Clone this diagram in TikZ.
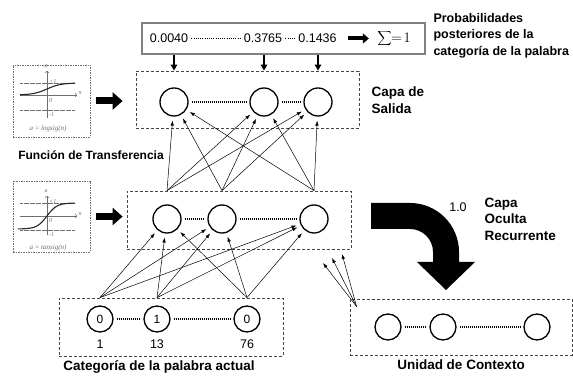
\documentclass[tikz,border=0pt]{standalone}
\usepackage{fontspec}
\setmainfont{Liberation Sans}
\newfontfamily\plotfont{Liberation Serif}
\usepackage{tikz}
\usetikzlibrary{positioning,arrows.meta,calc}
\definecolor{boxgray}{RGB}{70,70,70}
\definecolor{framegray}{RGB}{128,128,128}
\definecolor{plotgray}{RGB}{110,110,110}

\tikzset{
  layerbox/.style={rectangle,draw=boxgray,line width=0.8pt,dash pattern=on 3pt off 2pt,inner sep=0pt},
  neuron/.style={circle,draw,line width=1.3pt,minimum size=28pt,inner sep=0pt,font=\fontsize{12}{14}\selectfont},
  inneuron/.style={neuron,minimum size=26pt},
  dotlink/.style={line width=1.5pt,dash pattern=on 1pt off 1pt,shorten <=3pt,shorten >=3pt},
  probdots/.style={line width=1.3pt,dash pattern=on 0.9pt off 1.3pt,shorten <=1pt,shorten >=1pt},
  link/.style={-{Latex[length=5pt,width=3.5pt]},line width=0.5pt,shorten >=4pt},
  downarrow/.style={-{Triangle[length=6pt,width=6.5pt]},line width=1.2pt},
  fatarrow/.style={line width=7pt,-{Triangle[length=10pt,width=17pt]}},
  smallfat/.style={line width=4pt,-{Triangle[length=6pt,width=10pt]}},
  captiontext/.style={font=\fontsize{13.5}{16.5}\selectfont\bfseries,align=left},
  probtext/.style={font=\fontsize{12.5}{14}\selectfont,inner sep=2pt},
  plottext/.style={font=\fontsize{6}{7}\selectfont\plotfont\itshape,text=plotgray,inner sep=0.5pt},
  plotaxis/.style={draw=plotgray,line width=0.5pt,-{To[length=2pt]}},
  plotlevel/.style={draw=plotgray,line width=0.5pt,dash pattern=on 0.6pt off 0.6pt},
  plotcurve/.style={line width=1.1pt,black!85},
}

\begin{document}
\begin{tikzpicture}[x=1pt,y=1pt]
\useasboundingbox (0,0) rectangle (573,380);

% probabilidades
\node[rectangle,draw=framegray,line width=1.2pt,minimum width=283pt,minimum height=31pt] (probs) at (283.5,341.5) {};
\node[probtext] (p1) at (169,341.5) {0.0040};
\node[probtext] (p2) at (263,341.5) {0.3765};
\node[probtext] (p3) at (317.5,341.5) {0.1436};
\node[font=\fontsize{14.5}{15}\selectfont] (sum) at (394,341.5) {$\displaystyle\sum\!\!=\!1$};
\draw[probdots] (p1) -- (p2);
\draw[probdots] (p2) -- (p3);
\draw[smallfat,shorten <=9pt,shorten >=5pt] (p3) -- (sum);
\node[captiontext,anchor=west,font=\fontsize{12.5}{16.5}\selectfont\bfseries] (probcap) at (430,344.5)
  {Probabilidades\\posteriores de la\\categoría de la palabra};

% capa de salida
\node[layerbox,minimum width=223pt,minimum height=57pt] (outbox) at (247.5,280.5) {};
\node[neuron] (o1) at (174,278) {};
\node[neuron] (o2) at (264,278) {};
\node[neuron] (o3) at (318,278) {};
\draw[dotlink] (o1) -- (o2);
\draw[dotlink] (o2) -- (o3);
\node[captiontext,anchor=west] (outcap) at (368,280) {Capa de\\Salida};
\foreach \o in {o1,o2,o3}
  \draw[downarrow] (probs.south -| \o) -- (outbox.north -| \o);

% capa oculta
\node[layerbox,minimum width=224pt,minimum height=58pt] (hidbox) at (239,160) {};
\node[neuron] (h1) at (167,161) {};
\node[neuron] (h2) at (222,161) {};
\node[neuron] (h3) at (314,161) {};
\draw[dotlink] (h1) -- (h2);
\draw[dotlink] (h2) -- (h3);
\node[font=\fontsize{12.5}{14}\selectfont] (gain) at (458,173) {1.0};
\node[captiontext,anchor=west] (hidcap) at (481,161) {Capa\\Oculta\\Recurrente};

% entrada
\node[layerbox,minimum width=224pt,minimum height=58pt] (inbox) at (171,53) {};
\node[inneuron] (i1) at (100,61) {0};
\node[inneuron] (i2) at (157,61) {1};
\node[inneuron] (i3) at (247,61) {0};
\draw[dotlink] (i1) -- (i2);
\draw[dotlink] (i2) -- (i3);
\node[probtext,below=5pt of i1] (n1) {1};
\node[probtext,below=5pt of i2] (n2) {13};
\node[probtext,below=5pt of i3] (n3) {76};
\node[captiontext,below=1pt of inbox,xshift=-12pt] (incap) {Categoría de la palabra actual};

% unidad de contexto
\node[layerbox,minimum width=222pt,minimum height=56pt] (ctxbox) at (461,53) {};
\node[inneuron] (c1) at (388,53) {};
\node[inneuron] (c2) at (443,53) {};
\node[inneuron] (c3) at (537,53) {};
\draw[dotlink] (c1) -- (c2);
\draw[dotlink] (c2) -- (c3);
\node[captiontext,below=1pt of ctxbox] (ctxcap) {Unidad de Contexto};

% conexiones
\foreach \h in {h1,h2,h3}
  \foreach \o in {o1,o2,o3}
    \draw[link] (\h |- hidbox.north) -- (\o);
\foreach \i in {i1,i2,i3}
  \foreach \h in {h1,h2,h3}
    \draw[link] (\i |- inbox.north) -- (\h);
\coordinate (cs) at ($(ctxbox.north west)+(7,-8)$);
\coordinate (r1) at (323,117);
\coordinate (r2) at (332,122);
\coordinate (r3) at (342,126);
\foreach \r in {r1,r2,r3}
  \draw[link,shorten >=0pt] (cs) -- (\r);

% flecha recurrente
\fill (371,177) -- (410,177) arc (90:0:49) -- (459,118) -- (475,118) -- (446,90)
  -- (417,118) -- (433,118) -- (433,128) arc (0:90:23) -- (371,151) -- cycle;

% funciones de transferencia
\node[layerbox,draw=plotgray,line width=0.6pt,dash pattern=on 1.5pt off 1pt,minimum width=77pt,minimum height=72pt] (fbox1) at (51.5,279) {};
\draw[plotlevel] (20,297) -- (75,297);
\draw[plotlevel] (20,270) -- (75,270);
\draw[plotaxis] (20,285) -- (77,285);
\draw[plotaxis] (47,262) -- (47,309);
\draw[plotcurve] plot[domain=20:75,samples=40,smooth] (\x,{285+12/(1+exp(-(\x-47)/7))});
\node[plottext] at (46,313.5) {a};
\node[plottext,anchor=west] at (48.5,298.5) {+1};
\node[plottext,anchor=west] at (48.5,279) {0};
\node[plottext,anchor=west] at (48.5,265.5) {-1};
\node[plottext,anchor=west] at (78,287) {n};
\node[plottext,font=\fontsize{7}{8}\selectfont\plotfont\itshape] at (48,251) {a = logsig(n)};

\node[layerbox,draw=plotgray,line width=0.6pt,dash pattern=on 1.5pt off 1pt,minimum width=77pt,minimum height=71pt] (fbox2) at (51.5,163.5) {};
\draw[plotlevel] (20,177) -- (75,177);
\draw[plotlevel] (20,150) -- (75,150);
\draw[plotaxis] (20,164) -- (77,164);
\draw[plotaxis] (47,145) -- (47,184);
\draw[plotcurve] plot[domain=18:75,samples=40,smooth] (\x,{164+13*tanh((\x-47)/10)});
\node[plottext] at (46,189) {a};
\node[plottext,anchor=west] at (48.5,178.5) {+1};
\node[plottext,anchor=west] at (48.5,159) {0};
\node[plottext,anchor=west] at (48.5,145.5) {-1};
\node[plottext,anchor=west] at (78,166) {n};
\node[plottext,font=\fontsize{7}{8}\selectfont\plotfont\itshape] at (48,132) {a = tansig(n)};

\draw[fatarrow,shorten <=6pt,shorten >=13pt] (fbox1.east) -- (fbox1.east -| outbox.west);
\draw[fatarrow,shorten <=6pt,shorten >=4pt] (fbox2.east) -- (fbox2.east -| hidbox.west);
\node[captiontext,font=\fontsize{12}{14}\selectfont\bfseries] (fcap) at (91,225) {Función de Transferencia};
\end{tikzpicture}
\end{document}
